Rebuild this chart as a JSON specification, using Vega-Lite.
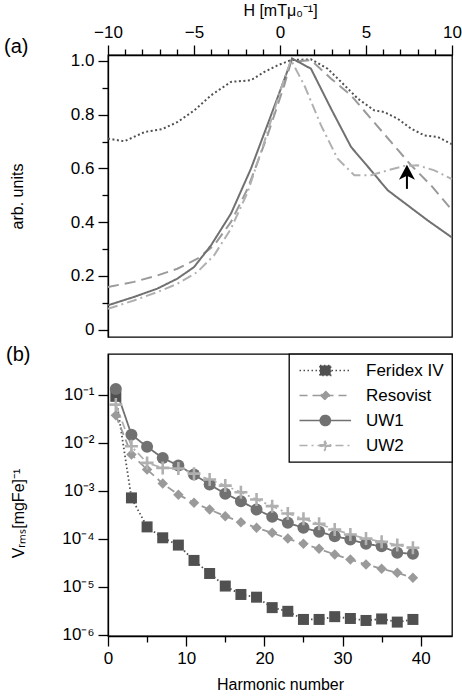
{
  "$schema": "https://vega.github.io/schema/vega-lite/v6.json",
  "padding": {"left": 3, "top": 1, "right": 5, "bottom": 2},
  "config": {
    "font": "Liberation Sans",
    "view": {"stroke": "#000", "strokeWidth": 1.3},
    "axis": {"domainColor": "#000", "domainWidth": 1.3, "tickColor": "#000", "tickWidth": 1.3, "labelColor": "#000", "titleColor": "#000", "labelFontSize": 17, "titleFontSize": 16, "titleFontWeight": "normal", "grid": false, "labelPadding": 4},
    "title": {"fontSize": 20, "fontWeight": "normal", "color": "#000"},
    "legend": {"orient": "top-right", "offset": 0, "padding": 8, "strokeColor": "#000", "strokeWidth": 1.3, "fillColor": "#fff", "labelFontSize": 17, "labelColor": "#000", "labelOffset": 52, "rowPadding": 7, "symbolSize": 144, "symbolStrokeWidth": 1.5}
  },
  "resolve": {
    "scale": {"stroke": "independent", "strokeDash": "independent", "fill": "independent", "shape": "independent"},
    "legend": {"stroke": "independent", "strokeDash": "independent", "fill": "independent", "shape": "independent"}
  },
  "datasets": {
    "magn": [
      {"s": "Feridex IV", "H": -10, "v": 0.711}, {"s": "Feridex IV", "H": -9.05, "v": 0.701}, {"s": "Feridex IV", "H": -7.85, "v": 0.736}, {"s": "Feridex IV", "H": -6.86, "v": 0.746}, {"s": "Feridex IV", "H": -5.95, "v": 0.773}, {"s": "Feridex IV", "H": -4.98, "v": 0.816}, {"s": "Feridex IV", "H": -4.01, "v": 0.872}, {"s": "Feridex IV", "H": -2.85, "v": 0.922}, {"s": "Feridex IV", "H": -1.69, "v": 0.928}, {"s": "Feridex IV", "H": -0.91, "v": 0.959}, {"s": "Feridex IV", "H": -0.13, "v": 0.984}, {"s": "Feridex IV", "H": 0.64, "v": 1.003}, {"s": "Feridex IV", "H": 1.8, "v": 1.006}, {"s": "Feridex IV", "H": 2.77, "v": 0.971}, {"s": "Feridex IV", "H": 3.74, "v": 0.91}, {"s": "Feridex IV", "H": 4.52, "v": 0.86}, {"s": "Feridex IV", "H": 5.48, "v": 0.816}, {"s": "Feridex IV", "H": 6.06, "v": 0.81}, {"s": "Feridex IV", "H": 6.84, "v": 0.785}, {"s": "Feridex IV", "H": 7.62, "v": 0.748}, {"s": "Feridex IV", "H": 8.39, "v": 0.723}, {"s": "Feridex IV", "H": 9.17, "v": 0.717}, {"s": "Feridex IV", "H": 10, "v": 0.69},
      {"s": "Resovist", "H": -10, "v": 0.159}, {"s": "Resovist", "H": -8.49, "v": 0.178}, {"s": "Resovist", "H": -7.13, "v": 0.202}, {"s": "Resovist", "H": -5.97, "v": 0.227}, {"s": "Resovist", "H": -4.8, "v": 0.264}, {"s": "Resovist", "H": -3.83, "v": 0.314}, {"s": "Resovist", "H": -2.85, "v": 0.401}, {"s": "Resovist", "H": -1.88, "v": 0.525}, {"s": "Resovist", "H": -0.72, "v": 0.724}, {"s": "Resovist", "H": 0.25, "v": 0.91}, {"s": "Resovist", "H": 0.64, "v": 0.996}, {"s": "Resovist", "H": 1.8, "v": 1.003}, {"s": "Resovist", "H": 2.97, "v": 0.934}, {"s": "Resovist", "H": 4.13, "v": 0.872}, {"s": "Resovist", "H": 5.29, "v": 0.785}, {"s": "Resovist", "H": 6.45, "v": 0.699}, {"s": "Resovist", "H": 7.62, "v": 0.612}, {"s": "Resovist", "H": 8.78, "v": 0.537}, {"s": "Resovist", "H": 10, "v": 0.445},
      {"s": "UW1", "H": -10, "v": 0.091}, {"s": "UW1", "H": -8.49, "v": 0.122}, {"s": "UW1", "H": -7.13, "v": 0.153}, {"s": "UW1", "H": -5.97, "v": 0.19}, {"s": "UW1", "H": -5.0, "v": 0.233}, {"s": "UW1", "H": -4.01, "v": 0.314}, {"s": "UW1", "H": -2.85, "v": 0.432}, {"s": "UW1", "H": -1.69, "v": 0.599}, {"s": "UW1", "H": -0.52, "v": 0.798}, {"s": "UW1", "H": 0.7, "v": 1.009}, {"s": "UW1", "H": 1.8, "v": 0.971}, {"s": "UW1", "H": 2.97, "v": 0.822}, {"s": "UW1", "H": 4.13, "v": 0.68}, {"s": "UW1", "H": 5.29, "v": 0.593}, {"s": "UW1", "H": 6.26, "v": 0.519}, {"s": "UW1", "H": 7.42, "v": 0.463}, {"s": "UW1", "H": 8.58, "v": 0.407}, {"s": "UW1", "H": 10, "v": 0.343},
      {"s": "UW2", "H": -10, "v": 0.078}, {"s": "UW2", "H": -8.49, "v": 0.109}, {"s": "UW2", "H": -7.13, "v": 0.14}, {"s": "UW2", "H": -5.97, "v": 0.171}, {"s": "UW2", "H": -4.8, "v": 0.215}, {"s": "UW2", "H": -3.83, "v": 0.277}, {"s": "UW2", "H": -2.85, "v": 0.376}, {"s": "UW2", "H": -1.88, "v": 0.512}, {"s": "UW2", "H": -0.91, "v": 0.699}, {"s": "UW2", "H": 0.06, "v": 0.897}, {"s": "UW2", "H": 0.64, "v": 1.003}, {"s": "UW2", "H": 1.41, "v": 0.91}, {"s": "UW2", "H": 2.38, "v": 0.761}, {"s": "UW2", "H": 3.35, "v": 0.636}, {"s": "UW2", "H": 4.32, "v": 0.575}, {"s": "UW2", "H": 5.29, "v": 0.575}, {"s": "UW2", "H": 6.26, "v": 0.593}, {"s": "UW2", "H": 7.23, "v": 0.609}, {"s": "UW2", "H": 8.0, "v": 0.612}, {"s": "UW2", "H": 8.97, "v": 0.593}, {"s": "UW2", "H": 10, "v": 0.56}
    ],
    "arrow": [{"H": 7.38, "v": 0.524, "v2": 0.577}],
    "arrowhead": [{"H": 7.38, "v": 0.577}],
    "harm": [
      {"s": "Feridex IV", "n": 1, "v": 0.092}, {"s": "Feridex IV", "n": 3, "v": 0.00071}, {"s": "Feridex IV", "n": 5, "v": 0.000177}, {"s": "Feridex IV", "n": 7, "v": 0.000105}, {"s": "Feridex IV", "n": 9, "v": 0.000074}, {"s": "Feridex IV", "n": 11, "v": 0.0000355}, {"s": "Feridex IV", "n": 13, "v": 0.000019}, {"s": "Feridex IV", "n": 15, "v": 0.0000104}, {"s": "Feridex IV", "n": 17, "v": 0.00000695}, {"s": "Feridex IV", "n": 19, "v": 0.0000061}, {"s": "Feridex IV", "n": 21, "v": 0.0000037}, {"s": "Feridex IV", "n": 23, "v": 0.0000031}, {"s": "Feridex IV", "n": 25, "v": 0.0000021}, {"s": "Feridex IV", "n": 27, "v": 0.0000021}, {"s": "Feridex IV", "n": 29, "v": 0.0000024}, {"s": "Feridex IV", "n": 31, "v": 0.0000022}, {"s": "Feridex IV", "n": 33, "v": 0.000002}, {"s": "Feridex IV", "n": 35, "v": 0.00000215}, {"s": "Feridex IV", "n": 37, "v": 0.00000185}, {"s": "Feridex IV", "n": 39, "v": 0.0000021},
      {"s": "Resovist", "n": 1, "v": 0.037}, {"s": "Resovist", "n": 3, "v": 0.0057}, {"s": "Resovist", "n": 5, "v": 0.00276}, {"s": "Resovist", "n": 7, "v": 0.00141}, {"s": "Resovist", "n": 9, "v": 0.00083}, {"s": "Resovist", "n": 11, "v": 0.00056}, {"s": "Resovist", "n": 13, "v": 0.000407}, {"s": "Resovist", "n": 15, "v": 0.000296}, {"s": "Resovist", "n": 17, "v": 0.000222}, {"s": "Resovist", "n": 19, "v": 0.000169}, {"s": "Resovist", "n": 21, "v": 0.000133}, {"s": "Resovist", "n": 23, "v": 0.000101}, {"s": "Resovist", "n": 25, "v": 0.0000785}, {"s": "Resovist", "n": 27, "v": 0.0000618}, {"s": "Resovist", "n": 29, "v": 0.0000472}, {"s": "Resovist", "n": 31, "v": 0.0000371}, {"s": "Resovist", "n": 33, "v": 0.0000292}, {"s": "Resovist", "n": 35, "v": 0.0000238}, {"s": "Resovist", "n": 37, "v": 0.0000196}, {"s": "Resovist", "n": 39, "v": 0.0000155},
      {"s": "UW1", "n": 1, "v": 0.131}, {"s": "UW1", "n": 3, "v": 0.0147}, {"s": "UW1", "n": 5, "v": 0.0082}, {"s": "UW1", "n": 7, "v": 0.0048}, {"s": "UW1", "n": 9, "v": 0.00334}, {"s": "UW1", "n": 11, "v": 0.00217}, {"s": "UW1", "n": 13, "v": 0.00135}, {"s": "UW1", "n": 15, "v": 0.00087}, {"s": "UW1", "n": 17, "v": 0.000605}, {"s": "UW1", "n": 19, "v": 0.000407}, {"s": "UW1", "n": 21, "v": 0.000286}, {"s": "UW1", "n": 23, "v": 0.000215}, {"s": "UW1", "n": 25, "v": 0.000169}, {"s": "UW1", "n": 27, "v": 0.00014}, {"s": "UW1", "n": 29, "v": 0.000113}, {"s": "UW1", "n": 31, "v": 0.000097}, {"s": "UW1", "n": 33, "v": 0.0000785}, {"s": "UW1", "n": 35, "v": 0.00007}, {"s": "UW1", "n": 37, "v": 0.000051}, {"s": "UW1", "n": 39, "v": 0.000049},
      {"s": "UW2", "n": 1, "v": 0.062}, {"s": "UW2", "n": 3, "v": 0.0084}, {"s": "UW2", "n": 5, "v": 0.0038}, {"s": "UW2", "n": 7, "v": 0.00299}, {"s": "UW2", "n": 9, "v": 0.0029}, {"s": "UW2", "n": 11, "v": 0.00227}, {"s": "UW2", "n": 13, "v": 0.00171}, {"s": "UW2", "n": 15, "v": 0.00128}, {"s": "UW2", "n": 17, "v": 0.00093}, {"s": "UW2", "n": 19, "v": 0.000656}, {"s": "UW2", "n": 21, "v": 0.000478}, {"s": "UW2", "n": 23, "v": 0.000336}, {"s": "UW2", "n": 25, "v": 0.00026}, {"s": "UW2", "n": 27, "v": 0.000205}, {"s": "UW2", "n": 29, "v": 0.000156}, {"s": "UW2", "n": 31, "v": 0.000123}, {"s": "UW2", "n": 33, "v": 0.000101}, {"s": "UW2", "n": 35, "v": 0.0000865}, {"s": "UW2", "n": 37, "v": 0.000074}, {"s": "UW2", "n": 39, "v": 0.000065}
    ]
  },
  "spacing": 5,
  "vconcat": [
    {
      "width": 344,
      "height": 282,
      "title": {"text": "(a)", "anchor": "start", "frame": "bounds", "offset": -55, "dx": -5},
      "encoding": {
        "x": {"field": "H", "type": "quantitative", "scale": {"domain": [-10, 10], "nice": false},
          "axis": {"orient": "top", "title": "H [mTμ₀⁻¹]", "values": [-10, -9, -8, -7, -6, -5, -4, -3, -2, -1, 0, 1, 2, 3, 4, 5, 6, 7, 8, 9, 10], "labelExpr": "datum.value % 5 === 0 ? datum.label : ''", "tickSize": {"condition": {"test": "datum.value % 5 === 0", "value": 10}, "value": 6}, "labelFlush": false, "labelOverlap": false, "titlePadding": 5}},
        "y": {"field": "v", "type": "quantitative", "scale": {"domain": [-0.027, 1.022], "nice": false, "zero": false},
          "axis": {"title": "arb. units", "values": [0, 0.1, 0.2, 0.3, 0.4, 0.5, 0.6, 0.7, 0.8, 0.9, 1.0], "format": ".1f", "labelExpr": "round(datum.value * 10) % 2 === 0 ? (datum.value === 0 ? '0' : datum.label) : ''", "tickSize": {"condition": {"test": "round(datum.value * 10) % 2 === 0", "value": 10}, "value": 6}, "labelOverlap": false, "labelFlush": false, "titleX": -86, "titleY": 141, "titleBaseline": "alphabetic"}}
      },
      "layer": [
        {
          "data": {"name": "magn"},
          "mark": {"type": "line", "strokeWidth": 2},
          "encoding": {
            "stroke": {"field": "s", "type": "nominal", "scale": {"domain": ["Feridex IV", "Resovist", "UW1", "UW2"], "range": ["#505050", "#9a9a9a", "#717171", "#b0b0b0"]}, "legend": null},
            "strokeDash": {"field": "s", "type": "nominal", "scale": {"domain": ["Feridex IV", "Resovist", "UW1", "UW2"], "range": [[2, 2.5], [11, 6], [1, 0], [10, 4, 2, 4]]}, "legend": null}
          }
        },
        {
          "data": {"name": "arrow"},
          "mark": {"type": "rule", "strokeWidth": 2, "color": "#000"},
          "encoding": {"y2": {"field": "v2"}}
        },
        {
          "data": {"name": "arrowhead"},
          "mark": {"type": "point", "shape": "M0,-1L0.8,0.5L0,0.1L-0.8,0.5Z", "filled": true, "color": "#000", "size": 400, "opacity": 1},
          "encoding": {}
        }
      ]
    },
    {
      "width": 344,
      "height": 282,
      "title": {"text": "(b)", "anchor": "start", "frame": "bounds", "offset": -12, "dx": -4},
      "data": {"name": "harm"},
      "encoding": {
        "x": {"field": "n", "type": "quantitative", "scale": {"domain": [0, 44], "nice": false},
          "axis": {"title": "Harmonic number", "values": [0, 5, 10, 15, 20, 25, 30, 35, 40], "labelExpr": "datum.value % 10 === 0 ? datum.label : ''", "tickSize": {"condition": {"test": "datum.value % 10 === 0", "value": 10}, "value": 6}, "labelFlush": false, "labelOverlap": false, "titlePadding": 10}},
        "y": {"field": "v", "type": "quantitative", "scale": {"type": "log", "domain": [0.00000095, 0.7], "nice": false},
          "axis": {"title": "Vᵣₘₛ[mgFe]⁻¹", "values": [0.000001, 0.00001, 0.0001, 0.001, 0.01, 0.1], "labelExpr": "'10⁻' + ['⁰','¹','²','³','⁴','⁵','⁶','⁷'][round(-log(datum.value) / LN10)]", "tickSize": 10, "labelOverlap": false, "labelFlush": false, "titleX": -85, "titleY": 159, "titleBaseline": "alphabetic"}}
      },
      "layer": [
        {
          "mark": {"type": "line", "strokeWidth": 1.8},
          "encoding": {
            "stroke": {"field": "s", "type": "nominal", "scale": {"domain": ["Feridex IV", "Resovist", "UW1", "UW2"], "range": ["#505050", "#9a9a9a", "#717171", "#b0b0b0"]}, "legend": {"title": null, "orient": "top-right", "offset": 0}},
            "strokeDash": {"field": "s", "type": "nominal", "scale": {"domain": ["Feridex IV", "Resovist", "UW1", "UW2"], "range": [[1.5, 2.5], [8, 5], [1, 0], [8, 4, 2, 4]]}, "legend": {"title": null, "orient": "top-right", "offset": 0}}
          }
        },
        {
          "transform": [{"filter": "false"}],
          "mark": {"type": "point", "filled": true, "size": 144, "strokeWidth": 1.5, "opacity": 1},
          "encoding": {
            "fill": {"field": "s", "type": "nominal", "scale": {"domain": ["Feridex IV", "Resovist", "UW1", "UW2"], "range": ["#505050", "#9a9a9a", "#717171", "#b0b0b0"]}, "legend": {"title": null, "orient": "top-right", "offset": 0}},
            "stroke": {"field": "s", "type": "nominal", "legend": {"title": null, "orient": "top-right", "offset": 0}},
            "strokeDash": {"field": "s", "type": "nominal", "legend": {"title": null, "orient": "top-right", "offset": 0}},
            "shape": {"field": "s", "type": "nominal", "scale": {"domain": ["Feridex IV", "Resovist", "UW1", "UW2"], "range": ["M-1,0H7.6M2.4,-0.85H4.2V0.85H2.4Z", "M-1,0H7.6M3.3,-0.75L4.05,0L3.3,0.75L2.55,0Z", "M-1,0H7.6M2.45,0A0.85,0.85,0,1,1,4.15,0A0.85,0.85,0,1,1,2.45,0Z", "M-1,0H7.6M2.45,-0.13H3.17V-0.85H3.43V-0.13H4.15V0.13H3.43V0.85H3.17V0.13H2.45Z"]}, "legend": {"title": null, "orient": "top-right", "offset": 0}}
          }
        },
        {
          "transform": [{"filter": "datum.s === 'Feridex IV'"}],
          "mark": {"type": "point", "shape": "square", "filled": true, "size": 121, "opacity": 1},
          "encoding": {"fill": {"field": "s", "type": "nominal", "legend": {"title": null, "orient": "top-right", "offset": 0}}}
        },
        {
          "transform": [{"filter": "datum.s === 'Resovist'"}],
          "mark": {"type": "point", "shape": "diamond", "filled": true, "size": 110, "opacity": 1},
          "encoding": {"fill": {"field": "s", "type": "nominal", "legend": {"title": null, "orient": "top-right", "offset": 0}}}
        },
        {
          "transform": [{"filter": "datum.s === 'UW1'"}],
          "mark": {"type": "point", "shape": "circle", "filled": true, "size": 144, "opacity": 1},
          "encoding": {"fill": {"field": "s", "type": "nominal", "legend": {"title": null, "orient": "top-right", "offset": 0}}}
        },
        {
          "transform": [{"filter": "datum.s === 'UW2'"}],
          "mark": {"type": "point", "shape": "M-1,-0.2H-0.2V-1H0.2V-0.2H1V0.2H0.2V1H-0.2V0.2H-1Z", "filled": true, "size": 169, "opacity": 1},
          "encoding": {"fill": {"field": "s", "type": "nominal", "legend": {"title": null, "orient": "top-right", "offset": 0}}}
        }
      ]
    }
  ]
}
